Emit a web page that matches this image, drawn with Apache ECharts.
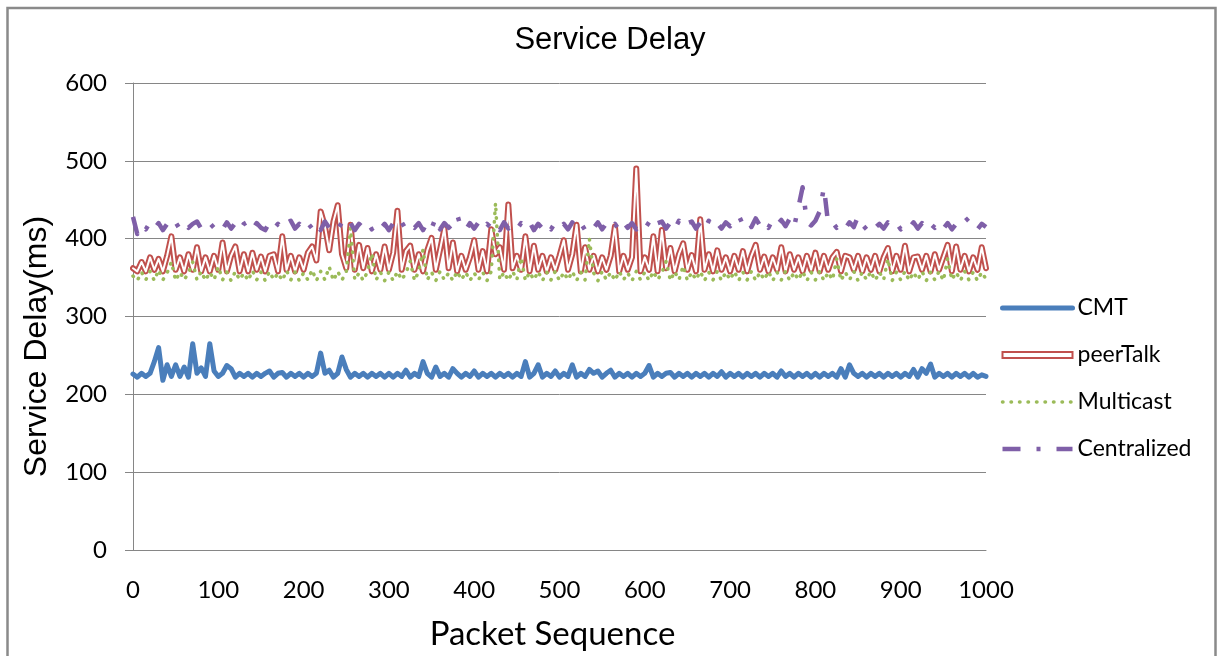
<!DOCTYPE html>
<html>
<head>
<meta charset="utf-8">
<script src="https://cdn.jsdelivr.net/npm/echarts@6/dist/echarts.min.js"></script>
<style>
html,body{margin:0;padding:0;background:#fff;}
#chart{width:1220px;height:656px;}
</style>
</head>
<body>
<div id="chart"></div>
<script>
// Packet sequence sampled every 5 packets (0..1000)
const packetStep = 5;

const cmt = [
226,222,227,223,227,242,260,218,238,223, 238,223,235,222,265,227,234,223,265,230,
223,227,237,233,222,227,223,227,222,227, 223,227,230,222,227,228,222,227,223,227,
222,227,223,227,253,227,231,222,227,248, 232,222,227,223,227,222,227,223,227,222,
227,222,227,223,231,222,227,223,242,227, 222,235,223,227,222,233,227,222,227,223,
230,222,227,223,227,222,227,223,227,222, 227,223,242,222,227,238,222,227,223,230,
222,227,223,238,222,227,223,232,227,230, 222,227,231,222,227,223,227,222,227,223,
227,237,222,227,223,227,228,222,227,223, 227,222,227,223,227,222,227,223,229,222,
227,223,227,222,227,223,227,222,227,223, 227,222,230,223,227,222,227,223,227,222,
227,222,227,223,227,222,233,222,238,227, 223,227,222,227,223,227,222,227,223,227,
222,227,223,232,222,233,227,239,222,227, 223,227,222,227,223,227,222,227,222,225,
223
];

const peerTalk = [
362,358,370,358,376,360,374,358,378,403, 360,376,358,380,360,389,358,376,358,378,
360,395,358,378,390,358,380,358,382,360, 377,358,378,380,358,403,360,378,358,376,
360,382,390,372,435,416,385,422,443,380, 362,418,360,392,362,388,358,380,360,390,
360,382,436,360,384,391,360,380,358,385, 401,360,386,413,362,395,358,378,360,376,
398,360,384,358,412,380,389,360,444,362, 378,360,403,358,391,360,378,358,376,360,
378,398,360,380,418,358,389,360,378,358, 376,360,378,416,358,378,360,376,490,358,
376,360,403,358,411,362,388,358,380,394, 360,379,358,425,360,380,358,385,360,376,
358,378,360,384,358,378,392,360,377,358, 376,360,389,358,380,360,376,358,378,360,
382,358,378,360,376,383,358,378,376,360, 378,358,376,360,378,358,376,388,358,378,
360,391,358,376,377,360,378,358,380,360, 376,392,358,390,360,378,358,376,360,389,
362
];

const multicast = [
352,346,357,347,358,346,360,347,356,370, 346,357,347,356,370,347,358,346,357,347,
364,347,357,346,358,347,356,346,359,347, 357,346,358,347,356,346,359,347,357,346,
356,347,360,346,358,347,364,346,358,347, 357,414,347,356,346,358,381,347,357,346,
357,346,358,347,356,371,346,358,386,347, 357,346,358,347,356,346,358,347,357,346,
356,347,357,346,358,446,347,357,346,358, 347,376,346,357,347,358,346,357,347,358,
346,357,347,358,346,357,347,400,356,346, 358,347,357,346,358,347,356,346,358,347,
357,346,358,347,356,371,346,358,347,365, 346,357,347,358,346,357,347,358,346,357,
347,358,346,357,347,358,346,357,347,358, 346,357,347,358,346,357,347,358,346,357,
347,358,346,357,347,374,346,357,347,358, 346,357,347,358,346,357,347,374,346,357,
347,358,346,357,347,358,346,357,347,358, 346,374,347,357,346,358,347,357,346,357,
348
];

const centralized = [
428,406,418,412,421,413,420,411,419,413, 421,412,420,414,419,422,413,411,420,414,
419,412,421,413,420,411,419,422,412,420, 414,411,421,413,419,412,420,423,413,419,
412,420,413,421,411,422,414,419,412,421, 413,420,411,419,414,421,412,420,413,419,
411,420,413,421,412,419,414,420,411,421, 413,427,412,420,414,419,431,413,411,420,
413,421,412,419,414,420,411,421,413,419, 412,420,414,421,411,419,413,420,412,421,
414,419,412,421,413,420,411,419,414,421, 412,420,413,419,411,421,414,420,412,419,
413,421,412,420,422,413,421,412,423,414, 420,422,413,421,412,423,414,420,413,421,
416,423,430,418,424,415,426,417,423,414, 425,418,424,416,426,415,440,466,421,417,
423,435,466,419,421,414,420,413,421,415, 429,418,412,420,414,419,413,421,415,420,
412,419,414,421,413,420,412,419,414,421, 413,420,412,419,414,422,427,418,412,419,
415
];

const colors = { CMT: '#4A7EBB', peerTalk: '#C0504D', Multicast: '#9BBB59', Centralized: '#7F5FA8' };

function pairs(arr) { return arr.map((v, i) => [i * packetStep, v]); }

const chart = echarts.init(document.getElementById('chart'), null, { renderer: 'canvas' });
const gridColor = '#868686';
const tickFont = 'Lato, "Open Sans", sans-serif';
const arialFont = '"Liberation Sans", Arial, sans-serif';

chart.setOption({
  animation: false,
  backgroundColor: '#fff',
  title: {
    text: 'Service Delay',
    left: 'center',
    top: 20,
    textStyle: { fontFamily: arialFont, fontSize: 31, fontWeight: 'normal', color: '#000' }
  },
  graphic: [{
    type: 'rect',
    shape: { x: 7.5, y: 8, width: 1208, height: 700 },
    style: { fill: 'none', stroke: '#8a8a8a', lineWidth: 2.5 },
    silent: true, z: -1
  }],
  legend: {
    orient: 'vertical',
    left: 995,
    top: 291,
    itemWidth: 70,
    itemHeight: 6,
    itemGap: 23,
    textStyle: { fontFamily: tickFont, fontSize: 23, color: '#000', lineHeight: 24 },
    lineStyle: { width: 'inherit' },
    itemStyle: { opacity: 0 },
    data: [
      { name: 'CMT' },
      { name: 'peerTalk', icon: 'rect', itemStyle: { opacity: 1, color: '#ffffff', borderColor: colors.peerTalk, borderWidth: 2 } },
      { name: 'Multicast' },
      { name: 'Centralized' }
    ]
  },
  grid: { left: 133, right: 234, top: 83, bottom: 104, containLabel: false },
  xAxis: {
    type: 'value',
    min: 0, max: 1000, interval: 100,
    name: 'Packet Sequence',
    nameLocation: 'middle',
    nameGap: 68,
    nameTextStyle: { fontFamily: tickFont, fontSize: 33, color: '#000', padding: [0, 14, 0, 0] },
    axisLine: { show: true, lineStyle: { color: gridColor, width: 1 } },
    axisTick: { show: false },
    splitLine: { show: false },
    axisLabel: { fontFamily: tickFont, fontSize: 24, color: '#000', margin: 28, showMinLabel: true, showMaxLabel: true,
      formatter: v => String(v) }
  },
  yAxis: {
    type: 'value',
    min: 0, max: 600, interval: 100,
    name: 'Service Delay(ms)',
    nameLocation: 'middle',
    nameRotate: 90,
    nameGap: 80,
    nameTextStyle: { fontFamily: arialFont, fontSize: 32, color: '#000', padding: [0, 60, 0, 0] },
    axisLine: { show: true, lineStyle: { color: gridColor, width: 1 } },
    axisTick: { show: true, inside: false, length: 8, lineStyle: { color: gridColor } },
    splitLine: { show: true, lineStyle: { color: gridColor, width: 1 } },
    axisLabel: { fontFamily: tickFont, fontSize: 24, color: '#000', margin: 26 }
  },
  series: [
    {
      name: 'CMT', type: 'line', data: pairs(cmt), symbol: 'none', showSymbol: false,
      lineStyle: { color: colors.CMT, width: 5, cap: 'round', join: 'round' },
      itemStyle: { color: colors.CMT }, z: 2
    },
    {
      name: 'peerTalk', type: 'line', data: pairs(peerTalk), symbol: 'none', showSymbol: false,
      lineStyle: { color: colors.peerTalk, width: 6, join: 'round', cap: 'round' },
      itemStyle: { color: colors.peerTalk }, z: 3
    },
    {
      name: 'peerTalk-inner', type: 'line', data: pairs(peerTalk), symbol: 'none', showSymbol: false,
      lineStyle: { color: '#ffffff', width: 2, join: 'round', cap: 'round' },
      itemStyle: { color: '#ffffff' }, z: 4, silent: true
    },
    {
      name: 'Multicast', type: 'line', data: pairs(multicast), symbol: 'none', showSymbol: false,
      lineStyle: { color: colors.Multicast, width: 3.5, type: [0.5, 8], cap: 'round', join: 'round' },
      itemStyle: { color: colors.Multicast }, z: 5
    },
    {
      name: 'Centralized', type: 'line', data: pairs(centralized), symbol: 'none', showSymbol: false,
      lineStyle: { color: colors.Centralized, width: 4.5, type: [18, 16, 4, 16], cap: 'butt', join: 'round' },
      itemStyle: { color: colors.Centralized }, z: 6
    }
  ]
});
</script>
</body>
</html>
